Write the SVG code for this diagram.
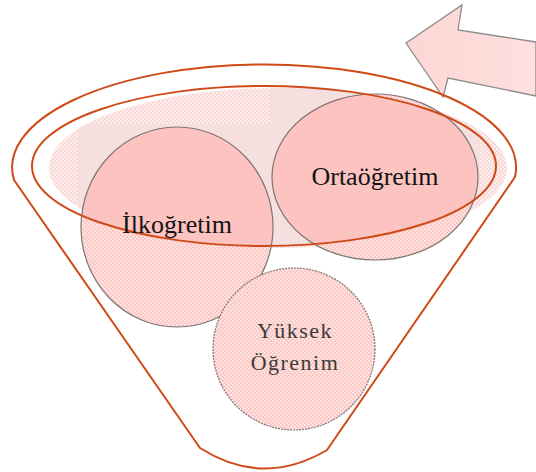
<svg xmlns="http://www.w3.org/2000/svg" width="536" height="472" viewBox="0 0 536 472">
<style>
.rim{fill:none;stroke:#cf4a17;stroke-width:2;stroke-linejoin:round}
.ring{stroke:#7d7474;stroke-width:1.2;fill:none}
.lbl{font-family:"Liberation Serif","Times New Roman",serif;text-anchor:middle}
.big{font-size:26px;fill:#141414}
.small{font-size:22px;fill:#3a3a3a;letter-spacing:1.5px}
</style>
<defs>
<pattern id="tex" width="4" height="4" patternUnits="userSpaceOnUse">
<rect width="4" height="4" fill="#fbc9c6"/>
<rect x="0" y="0" width="2" height="2" fill="#fdd9d7"/>
<rect x="2" y="2" width="2" height="2" fill="#fdd9d7"/>
<rect x="0" y="0" width="1" height="1" fill="#fff2f1"/>
<rect x="2" y="2" width="1" height="1" fill="#fff2f1"/>
</pattern>
<pattern id="texbg" width="4" height="4" patternUnits="userSpaceOnUse">
<rect width="4" height="4" fill="#f9d9d8"/>
<rect x="0" y="0" width="2" height="2" fill="#fce9e8"/>
<rect x="2" y="2" width="2" height="2" fill="#fce9e8"/>
<rect x="0" y="0" width="1" height="1" fill="#fff8f8"/>
<rect x="2" y="2" width="1" height="1" fill="#fff8f8"/>
</pattern>
<clipPath id="innerClip"><ellipse cx="264" cy="166" rx="232" ry="80"/></clipPath>
<clipPath id="lightClip"><polygon points="78,124 270,124 270,80 480,80 480,300 78,300"/></clipPath>
<linearGradient id="arrowFill" x1="0" y1="0" x2="1" y2="0">
<stop offset="0" stop-color="#fdd6d4"/>
<stop offset="1" stop-color="#fde0de"/>
</linearGradient>
</defs>

<g id="funnel-bg">
<ellipse cx="278" cy="168" rx="229" ry="80" fill="url(#texbg)"/>
<g clip-path="url(#innerClip)">
<g clip-path="url(#lightClip)">
<ellipse cx="278" cy="168" rx="229" ry="80" fill="#f6e0df"/>
</g>
</g>
</g>

<g id="node-ilkogretim">
<ellipse cx="177" cy="227" rx="96" ry="100" fill="url(#tex)"/>
<ellipse cx="177" cy="227" rx="96" ry="100" fill="#fdc3c1" clip-path="url(#innerClip)"/>
<ellipse class="ring" cx="177" cy="227" rx="96" ry="100"/>
</g>

<g id="node-ortaogretim">
<ellipse cx="375" cy="177" rx="103" ry="83" fill="url(#tex)"/>
<ellipse cx="375" cy="177" rx="103" ry="83" fill="#fdc3c1" clip-path="url(#innerClip)"/>
<ellipse class="ring" cx="375" cy="177" rx="103" ry="83"/>
</g>

<g id="node-yuksek">
<circle cx="294" cy="349" r="81" fill="url(#tex)"/>
<circle class="ring" cx="294" cy="349" r="81" stroke-dasharray="2 1"/>
</g>

<g id="arrow">
<polygon points="406,43 462,5 458,30 536,42 536,96 448,78 443,97" fill="url(#arrowFill)" stroke="#8c8c8c" stroke-width="1.3" stroke-linejoin="miter"/>
</g>

<g id="funnel-outline">
<ellipse class="rim" cx="264" cy="166" rx="232" ry="80"/>
<path class="rim" d="M 14 180 A 252 103 0 1 1 515 177 L 327 450 Q 263 488 200 448 Z"/>
</g>

<g id="labels">
<text class="lbl big" x="375" y="185">Ortaöğretim</text>
<text class="lbl big" x="177" y="233">İlkoğretim</text>
<text class="lbl small" x="295" y="338">Yüksek</text>
<text class="lbl small" x="295" y="370">Öğrenim</text>
</g>
</svg>
